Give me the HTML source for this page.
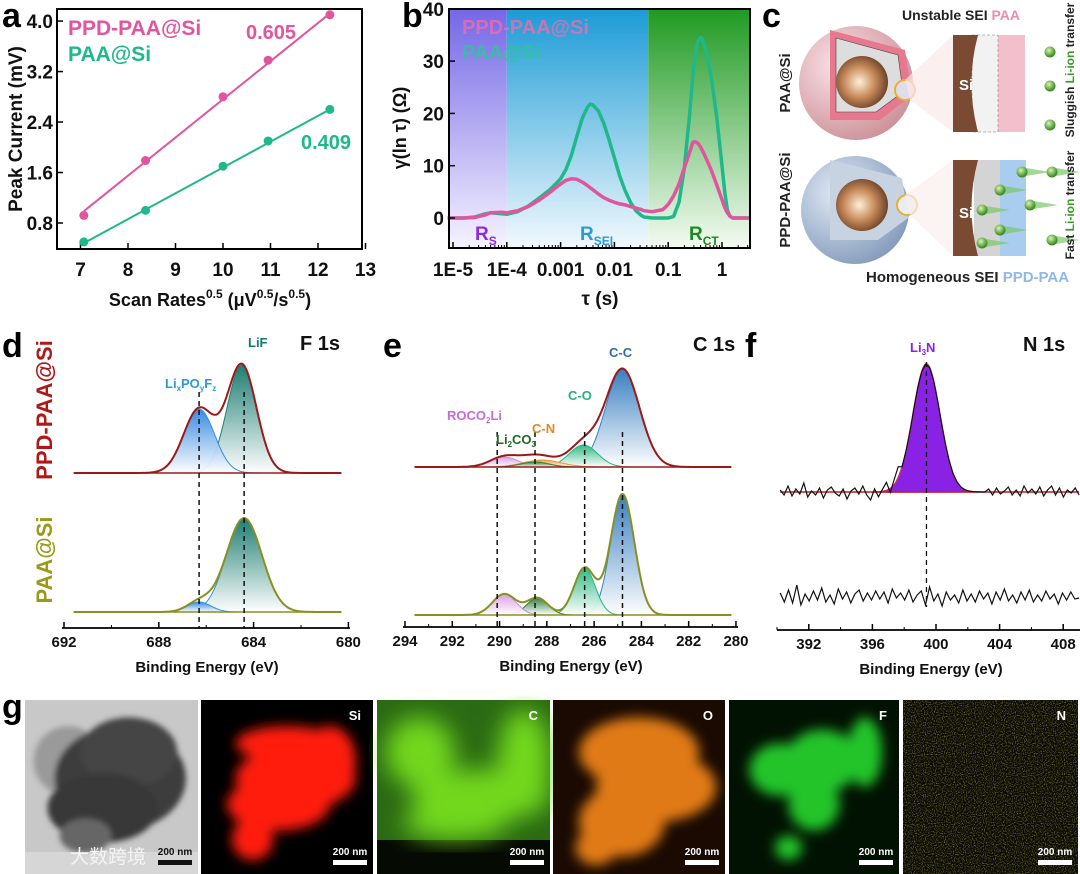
<!DOCTYPE html>
<html><head><meta charset="utf-8"><style>
html,body{margin:0;padding:0;background:#fff}
svg{display:block;font-family:"Liberation Sans","Noto Sans CJK SC",sans-serif;font-weight:bold}
</style></head><body>
<svg id="fig" width="1080" height="874" viewBox="0 0 1080 874" xmlns="http://www.w3.org/2000/svg">
<defs>
<linearGradient id="gPur" x1="0" y1="0" x2="0" y2="1"><stop offset="0" stop-color="#7467e6"/><stop offset="1" stop-color="#f6f3ff"/></linearGradient>
<linearGradient id="gBlu" x1="0" y1="0" x2="0" y2="1"><stop offset="0" stop-color="#1b9bd6"/><stop offset="1" stop-color="#f2f9fd"/></linearGradient>
<linearGradient id="gGrn" x1="0" y1="0" x2="0" y2="1"><stop offset="0" stop-color="#1f9a22"/><stop offset="1" stop-color="#f4fbf2"/></linearGradient>
<linearGradient id="fTeal" x1="0" y1="0" x2="0" y2="1"><stop offset="0" stop-color="#12776c"/><stop offset="1" stop-color="#ffffff"/></linearGradient>
<linearGradient id="fBlue" x1="0" y1="0" x2="0" y2="1"><stop offset="0" stop-color="#2f86e0"/><stop offset="1" stop-color="#ffffff"/></linearGradient>
<linearGradient id="fCC" x1="0" y1="0" x2="0" y2="1"><stop offset="0" stop-color="#2e78bf"/><stop offset="1" stop-color="#ffffff"/></linearGradient>
<linearGradient id="fCO" x1="0" y1="0" x2="0" y2="1"><stop offset="0" stop-color="#25b87f"/><stop offset="1" stop-color="#ffffff"/></linearGradient>
<linearGradient id="fRO" x1="0" y1="0" x2="0" y2="1"><stop offset="0" stop-color="#d99be6"/><stop offset="1" stop-color="#ffffff"/></linearGradient>
<linearGradient id="fLC" x1="0" y1="0" x2="0" y2="1"><stop offset="0" stop-color="#2b7d37"/><stop offset="1" stop-color="#ffffff"/></linearGradient>
<linearGradient id="fCN" x1="0" y1="0" x2="0" y2="1"><stop offset="0" stop-color="#e8a03c"/><stop offset="1" stop-color="#ffffff"/></linearGradient>
<radialGradient id="sPink" cx="0.35" cy="0.35" r="0.75"><stop offset="0" stop-color="#fbe3e6"/><stop offset="1" stop-color="#c98d95"/></radialGradient>
<radialGradient id="sBlue" cx="0.35" cy="0.35" r="0.75"><stop offset="0" stop-color="#e2ebf6"/><stop offset="1" stop-color="#7f97b8"/></radialGradient>
<radialGradient id="sCore" cx="0.45" cy="0.5" r="0.6"><stop offset="0" stop-color="#fff0d8"/><stop offset="0.5" stop-color="#c88a5a"/><stop offset="1" stop-color="#5a3520"/></radialGradient>
<radialGradient id="ball" cx="0.4" cy="0.35" r="0.6"><stop offset="0" stop-color="#d8f5b0"/><stop offset="1" stop-color="#3a8a22"/></radialGradient>
<filter id="blur6"><feGaussianBlur stdDeviation="6"/></filter>
<filter id="blur12"><feGaussianBlur stdDeviation="12"/></filter>
<filter id="blur3"><feGaussianBlur stdDeviation="3"/></filter>
<filter id="speck" x="0" y="0" width="100%" height="100%"><feTurbulence type="fractalNoise" baseFrequency="0.9" numOctaves="1" seed="3"/><feColorMatrix type="matrix" values="0 0 0 0 0.8  0 0 0 0 0.75  0 0 0 0 0.1  0 0 0 1.6 -0.75"/></filter>
</defs>
<g id="root"></g>
</svg>
<script>
// ---------- DATA ----------
// panel a
const aX = [7.07, 8.37, 10.0, 10.95, 12.25];
const aPink = [0.92, 1.79, 2.80, 3.38, 4.10];
const aGreen = [0.50, 1.00, 1.70, 2.10, 2.60];
const aSlopes = [0.605, 0.409];
const aIntercepts = [-3.29, -2.41];
const aXTicks = [7, 8, 9, 10, 11, 12, 13];
const aYTicks = [0.8, 1.6, 2.4, 3.2, 4.0];
// panel b (log10 tau, gamma)
const bLogT = [-5.1,-4.8,-4.6,-4.4,-4.3,-4.1,-4.0,-3.8,-3.6,-3.4,-3.2,-3.0,-2.9,-2.8,-2.7,-2.6,-2.5,-2.45,-2.4,-2.3,-2.2,-2.1,-2.0,-1.9,-1.8,-1.7,-1.6,-1.5,-1.45,-1.3,-1.1,-1.0,-0.9,-0.8,-0.7,-0.6,-0.54,-0.5,-0.45,-0.4,-0.37,-0.3,-0.2,-0.1,0.0,0.05,0.1,0.15,0.2,0.3,0.5];
const bPink = [0,0,0.1,0.6,1.0,1.1,1.0,1.4,2.2,3.4,4.9,6.5,7.2,7.5,7.4,6.9,6.2,5.8,5.4,4.6,3.9,3.4,3.0,2.7,2.5,2.2,1.9,1.6,1.4,1.2,1.6,2.6,4.2,6.5,9.6,12.6,14.5,14.6,14.3,13.6,13.0,11.5,9.2,6.4,3.5,2.0,1.0,0.3,0,0,0];
const bGreen = [0,0,0.2,0.8,1.0,0.8,0.7,1.2,2.3,3.8,5.4,7.5,9.3,12.0,15.5,19.0,21.2,21.8,21.6,20.5,18.2,15.0,11.5,8.0,5.2,3.0,1.4,0.5,0.2,0,0,0,0.3,3.0,9.5,20.0,27.5,31.0,33.8,34.5,34.3,32.0,27.0,19.5,10.0,5.0,1.5,0.3,0,0,0];
const bXTickLabels = ["1E-5","1E-4","0.001","0.01","0.1","1"];
const bXTickLogs = [-5,-4,-3,-2,-1,0];
const bYTicks = [0,10,20,30,40];
// panel d (F 1s): [centre eV, amplitude, sigma]
const dTopPeaks = [[684.5,108,0.62],[686.3,64,0.65]];
const dBotPeaks = [[684.4,94,0.75],[686.3,10,0.5]];
const dXTicks = [692,688,684,680];
const dDashes = [686.3,684.4];
// panel e (C 1s)
const eTopPeaks = [[284.8,98,0.72],[286.45,22,0.6],[289.8,10,0.6],[288.2,7,0.8],[288.5,5,0.6]];
const eBotPeaks = [[284.8,121,0.5],[286.4,47,0.45],[288.4,17,0.45],[289.8,21,0.5]];
const eXTicks = [294,292,290,288,286,284,282,280];
const eDashes = [290.1,288.5,286.4,284.8];
// panel f (N 1s)
const fPeak = [399.4,128,0.85];
const fNoiseTop = [2,-3,6,-4,3,-2,9,-5,1,-3,4,-6,2,5,-1,-4,3,-7,1,4,-2,6,-3,-8,3,-5,2,8,-4,5,11,0,0,0,0,0,0,0,0,0,0,0,0,0,0,0,0,0,0,0,0,0,0,3,-3,4,-2,1,5,-3,2,-4,6,-1,3,-2,5,-4,2,6,-3,4,-5,2,-1,4,-3];
const fNoiseBot = [4,-5,7,-6,12,-8,3,-4,6,-3,9,-5,2,-7,8,-2,5,-6,3,7,-4,4,-3,6,-2,5,-6,8,-1,4,-3,7,-5,2,6,-8,10,-4,3,-9,5,-3,2,-6,7,-4,3,-5,6,-2,4,-7,5,-3,8,-4,2,-6,5,-3,7,-5,2,-4,6,-2,3,-7,4,-3,5,-2,-1];
const fXTicks = [392,396,400,404,408];
// panel g
const gLabels = ["","Si","C","O","F","N"];

// ---------- helpers ----------
const NS="http://www.w3.org/2000/svg";
const root=document.getElementById('root');
function mk(tag,attrs,parent){const e=document.createElementNS(NS,tag);for(const k in attrs)e.setAttribute(k,attrs[k]);(parent||root).appendChild(e);return e;}
function txt(s,x,y,size,fill,anchor,parent){const t=mk('text',{x:x,y:y,'font-size':size,fill:fill||'#111','text-anchor':anchor||'start'},parent);t.textContent=s;return t;}
function gauss(x,p){return p[1]*Math.exp(-0.5*Math.pow((x-p[0])/p[2],2));}

// ---------- panel labels ----------
[["a",2,27],["b",402,27],["c",762,27],["d",2,357],["e",383,357],["f",745,357],["g",2,718]].forEach(l=>{
  const t=txt(l[0],l[1],l[2],34,'#000');
  
  
});

// ---------- panel a ----------
(function(){
  const g=mk('g',{});
  
  
  const X=v=>80.5+(v-7)*47.5, Y=v=>223-(v-0.8)*63.1;
  const fr=mk('rect',{x:57,y:9,width:305,height:240,fill:'none',stroke:'#000','stroke-width':2},g);
  
  
  aXTicks.forEach(v=>{mk('line',{x1:X(v),x2:X(v),y1:249,y2:243,stroke:'#000','stroke-width':1.5},g);
    const t=txt(String(v),X(v),276,19,'#111','middle',g);
    
    });
  aYTicks.forEach(v=>{mk('line',{x1:57,x2:63,y1:Y(v),y2:Y(v),stroke:'#000','stroke-width':1.5},g);
    const t=txt(v.toFixed(1),53,Y(v)+7,19,'#111','end',g);
    
    });
  const cols=['#e0559e','#1fb88a'];
  [aPink,aGreen].forEach((ser,si)=>{
    const x0=aX[0],x1=aX[aX.length-1];
    const ln=mk('line',{x1:X(x0),y1:Y(aSlopes[si]*x0+aIntercepts[si]),x2:X(x1),y2:Y(aSlopes[si]*x1+aIntercepts[si]),stroke:cols[si],'stroke-width':2},g);
    
    
    ser.forEach((v,i)=>{const c=mk('circle',{cx:X(aX[i]),cy:Y(v),r:4.5,fill:cols[si]},g);
      
      });
  });
  let t=txt('PPD-PAA@Si',68,35,21,'#e0559e','start',g);
  
  
  t=txt('PAA@Si',68,61,21,'#1fb88a','start',g);
  
  
  t=txt('0.605',246,39,20,'#e0559e','start',g);
  
  
  t=txt('0.409',301,149,20,'#1fb88a','start',g);
  
  
  t=mk('text',{x:210,y:306,'font-size':18,'text-anchor':'middle',fill:'#111'},g);
  t.innerHTML='Scan Rates<tspan font-size="12" dy="-8">0.5</tspan><tspan dy="8"> (μV</tspan><tspan font-size="12" dy="-8">0.5</tspan><tspan dy="8">/s</tspan><tspan font-size="12" dy="-8">0.5</tspan><tspan dy="8">)</tspan>';
  
  
  t=txt('Peak Current (mV)',0,0,19,'#111','middle',g);
  t.setAttribute('transform','translate(22,129) rotate(-90)');
  
  
})();

// ---------- panel b ----------
(function(){
  const g=mk('g',{});
  
  
  const X=l=>453+(l+5)*53.8, Y=v=>218-v*5.23;
  const L=449,R=750,T=9,B=248;
  mk('rect',{x:L,y:T,width:X(-4)-L,height:B-T,fill:'url(#gPur)'},g);
  mk('rect',{x:X(-4),y:T,width:X(-1.37)-X(-4),height:B-T,fill:'url(#gBlu)'},g);
  mk('rect',{x:X(-1.37),y:T,width:R-X(-1.37),height:B-T,fill:'url(#gGrn)'},g);
  [[bGreen,'#1fb88a','drt-curve-paa-si'],[bPink,'#e0559e','drt-curve-ppd-paa-si']].forEach(s=>{
    const pts=bLogT.map((l,i)=>X(l).toFixed(1)+','+Y(s[0][i]).toFixed(1)).join(' ');
    const p=mk('polyline',{points:pts,fill:'none',stroke:s[1],'stroke-width':3.5,'stroke-linejoin':'round'},g);
    
    
  });
  const fr=mk('rect',{x:L,y:T,width:R-L,height:B-T,fill:'none',stroke:'#000','stroke-width':2},g);
  
  
  bXTickLogs.forEach((l,i)=>{mk('line',{x1:X(l),x2:X(l),y1:B,y2:B-6,stroke:'#000','stroke-width':1.5},g);
    for(let m=2;m<10&&l<0.5;m++){const xm=X(l+Math.log10(m));if(xm<R)mk('line',{x1:xm,x2:xm,y1:B,y2:B-3,stroke:'#000','stroke-width':1},g);}
    const t=txt(bXTickLabels[i],X(l),276,19,'#111','middle',g);
    
    });
  bYTicks.forEach(v=>{mk('line',{x1:L,x2:L+6,y1:Y(v),y2:Y(v),stroke:'#000','stroke-width':1.5},g);
    const t=txt(String(v),444,Y(v)+7,19,'#111','end',g);
    
    });
  let t=txt('PPD-PAA@Si',462,34,20,'#f06ab0','start',g);t.setAttribute('opacity','0.8');
  
  
  t=txt('PAA@Si',462,59,20,'#2cc79a','start',g);t.setAttribute('opacity','0.85');
  
  
  t=mk('text',{x:475,y:240,'font-size':19,fill:'#8a2be2'},g);t.innerHTML='R<tspan font-size="12" dy="5">S</tspan>';
  
  
  t=mk('text',{x:580,y:240,'font-size':19,fill:'#2a9ad8'},g);t.innerHTML='R<tspan font-size="12" dy="5">SEI</tspan>';
  
  
  t=mk('text',{x:689,y:240,'font-size':19,fill:'#1b8a20'},g);t.innerHTML='R<tspan font-size="12" dy="5">CT</tspan>';
  
  
  t=mk('text',{x:600,y:305,'font-size':19,'text-anchor':'middle',fill:'#111'},g);t.textContent='τ (s)';
  
  
  t=txt('γ(ln τ) (Ω)',0,0,18,'#111','middle',g);
  t.setAttribute('transform','translate(406,128) rotate(-90)');
  
  
})();

// ---------- panel c (schematic) ----------
(function(){
  const g=mk('g',{});
  
  
  mk('circle',{cx:856,cy:83,r:57,fill:'url(#sPink)'},g);
  mk('path',{d:'M 830 30 L 905 50 L 912 95 L 880 120 L 830 120 Z',fill:'#e8788e'},g);
  mk('path',{d:'M 836 38 L 898 55 L 903 92 L 876 112 L 836 112 Z',fill:'#ddd',stroke:'#444','stroke-width':0.6},g);
  mk('circle',{cx:862,cy:82,r:26,fill:'url(#sCore)'},g);
  mk('circle',{cx:905,cy:90,r:10,fill:'#dde',stroke:'#e8b030','stroke-width':2},g);
  mk('circle',{cx:855,cy:210,r:54,fill:'url(#sBlue)'},g);
  mk('path',{d:'M 830 160 L 902 178 L 908 218 L 878 240 L 830 240 Z',fill:'#c7d3e0'},g);
  mk('circle',{cx:862,cy:205,r:26,fill:'url(#sCore)'},g);
  mk('circle',{cx:907,cy:205,r:10,fill:'#e8eef4',stroke:'#e8b030','stroke-width':2},g);
  mk('polygon',{points:'905,80 953,35 953,132 910,100',fill:'#fbe8e8',opacity:0.7},g);
  mk('polygon',{points:'905,195 953,160 953,256 910,215',fill:'#fbeeee',opacity:0.7},g);
  mk('rect',{x:995,y:35,width:30,height:97,fill:'#f4bfcc'},g);
  mk('rect',{x:972,y:35,width:26,height:97,fill:'#f2f2f2',stroke:'#777','stroke-width':0.5,'stroke-dasharray':'3 2'},g);
  mk('path',{d:'M 953 35 L 978 35 Q 965 83 978 132 L 953 132 Z',fill:'#7a4a33'},g);
  mk('rect',{x:998,y:160,width:28,height:96,fill:'#a9cdee'},g);
  mk('rect',{x:974,y:160,width:26,height:96,fill:'#d4d4d4'},g);
  mk('path',{d:'M 953 160 L 978 160 Q 965 208 978 256 L 953 256 Z',fill:'#7a4a33'},g);
  let t=txt('Si',959,90,15,'#fff','start',g);
  
  
  t=txt('Si',959,218,15,'#fff','start',g);
  
  
  [[1050,52],[1050,86],[1050,125],[1022,172],[1052,172],[1000,190],[1030,205],[982,210],[1000,230],[1052,240],[982,243]].forEach((b,i)=>{
    if(i>2) mk('polygon',{points:(b[0]+4)+','+(b[1]-4)+' '+(b[0]+28)+','+b[1]+' '+(b[0]+4)+','+(b[1]+4),fill:'#7bc86a',opacity:0.7},g);
    const c=mk('circle',{cx:b[0],cy:b[1],r:5.5,fill:'url(#ball)'},g);
    
    
  });
  t=mk('text',{x:902,y:20,'font-size':14,fill:'#222'},g);t.innerHTML='Unstable  SEI  <tspan fill="#f08aa8">PAA</tspan>';
  
  
  t=mk('text',{x:866,y:282,'font-size':15,fill:'#222'},g);t.innerHTML='Homogeneous  SEI <tspan fill="#8fb8e6">PPD-PAA</tspan>';
  
  
  t=mk('text',{x:0,y:0,'font-size':12,fill:'#222','text-anchor':'middle',transform:'translate(1074,70) rotate(-90)'},g);t.innerHTML='Sluggish <tspan fill="#3a9a2a">Li-ion</tspan> transfer';
  
  
  t=mk('text',{x:0,y:0,'font-size':12,fill:'#222','text-anchor':'middle',transform:'translate(1074,205) rotate(-90)'},g);t.innerHTML='Fast <tspan fill="#3a9a2a">Li-ion</tspan> transfer';
  
  
  t=txt('PAA@Si',0,0,15,'#222','middle',g);t.setAttribute('transform','translate(790,83) rotate(-90)');
  
  
  t=txt('PPD-PAA@Si',0,0,15,'#222','middle',g);t.setAttribute('transform','translate(790,200) rotate(-90)');
  
  
})();

// ---------- XPS panels ----------
function xpsPanel(cfg){
  const g=mk('g',{});
  
  
  const X=cfg.X;
  cfg.spectra.forEach((sp,si)=>{
    const xs=[];for(let e=cfg.lo;e<=cfg.hi+1e-6;e+=0.04)xs.push(e);
    sp.peaks.forEach((p,pi)=>{
      const pts=xs.filter(e=>Math.abs(e-p[0])<4*p[2]).map(e=>X(e).toFixed(1)+','+(sp.base-gauss(e,p)).toFixed(1));
      const first=pts[0].split(',')[0],last=pts[pts.length-1].split(',')[0];
      const path=mk('path',{d:'M '+first+','+sp.base+' L '+pts.join(' L ')+' L '+last+','+sp.base+' Z',fill:sp.fills[pi],stroke:sp.strokes[pi],'stroke-width':1,opacity:0.95},g);
      
      
    });
    const env=xs.map(e=>X(e).toFixed(1)+','+(sp.base-sp.peaks.reduce((s,p)=>s+gauss(e,p),0)).toFixed(1)).join(' ');
    const bl=mk('line',{x1:X(cfg.lo),x2:X(cfg.hi),y1:sp.base,y2:sp.base,stroke:sp.env,'stroke-width':1.5},g);
    
    
    const raw=mk('polyline',{points:env,fill:'none',stroke:'#111','stroke-width':1.2},g);
    
    
    const pe=mk('polyline',{points:env,fill:'none',stroke:sp.env,'stroke-width':2},g);
    
    
  });
  cfg.dashes.forEach(d=>{const l=mk('line',{x1:X(d),x2:X(d),y1:cfg.dashTop,y2:cfg.axisY,stroke:'#111','stroke-width':1.5,'stroke-dasharray':'5 4'},g);
    
    });
  const ax=mk('line',{x1:cfg.axL,x2:cfg.axR,y1:cfg.axisY,y2:cfg.axisY,stroke:'#000','stroke-width':1.8},g);
  
  
  cfg.ticks.forEach(v=>{mk('line',{x1:X(v),x2:X(v),y1:cfg.axisY,y2:cfg.axisY-6,stroke:'#000','stroke-width':1.5},g);
    const t=txt(String(v),X(v),cfg.axisY+19,15,'#111','middle',g);
    
    });
  for(let i=0;i<cfg.ticks.length-1;i++){const m=(cfg.ticks[i]+cfg.ticks[i+1])/2;mk('line',{x1:X(m),x2:X(m),y1:cfg.axisY,y2:cfg.axisY-3,stroke:'#000','stroke-width':1},g);}
  const t=txt('Binding Energy (eV)',cfg.titleX,cfg.axisY+44,15,'#111','middle',g);
  
  
  return g;
}
const dX=e=>64+(692-e)*23.7;
xpsPanel({name:'panel-d-f1s',X:dX,lo:680.3,hi:691.6,spectra:[
  {base:473,peaks:dTopPeaks,fills:['url(#fTeal)','url(#fBlue)'],strokes:['#137a6e','#2a8ad8'],env:'#9a1a1a'},
  {base:612,peaks:dBotPeaks,fills:['url(#fTeal)','url(#fBlue)'],strokes:['#2a8ad8','#2a8ad8'],env:'#8a9020'}],
  dashes:dDashes,dashTop:392,axisY:628,axL:62,axR:350,ticks:dXTicks,titleX:207});
const eX=e=>405+(294-e)*23.64;
xpsPanel({name:'panel-e-c1s',X:eX,lo:280.2,hi:293.6,spectra:[
  {base:467,peaks:eTopPeaks,fills:['url(#fCC)','url(#fCO)','url(#fRO)','url(#fCN)','url(#fLC)'],strokes:['#2a7ab8','#20b07a','#c88ad8','#e09a30','#2a7a30'],env:'#9a1a1a'},
  {base:615,peaks:eBotPeaks,fills:['url(#fCC)','url(#fCO)','url(#fLC)','url(#fRO)'],strokes:['#2a7ab8','#20b07a','#2a7a30','#c88ad8'],env:'#8a9020'}],
  dashes:eDashes,dashTop:432,axisY:627,axL:403,axR:738,ticks:eXTicks,titleX:571});
[[ 'F 1s',300,350,20,'#111'],['LiF',248,347,13,'#137a6e'],['C 1s',693,351,20,'#111'],['C-C',609,357,13,'#2a6fae'],['C-O',568,400,13,'#25b07e'],['C-N',532,433,13,'#e08a20']].forEach(l=>{
  const t=txt(l[0],l[1],l[2],l[3],l[4],'start');
  
  
});
(function(){
  let t=mk('text',{x:165,y:388,'font-size':13,fill:'#2a9ad8'});t.innerHTML='Li<tspan font-size="8" dy="3">x</tspan><tspan dy="-3">PO</tspan><tspan font-size="8" dy="3">y</tspan><tspan dy="-3">F</tspan><tspan font-size="8" dy="3">z</tspan>';
  
  
  t=mk('text',{x:447,y:420,'font-size':13,fill:'#c86ad8'});t.innerHTML='ROCO<tspan font-size="8" dy="3">2</tspan><tspan dy="-3">Li</tspan>';
  
  
  t=mk('text',{x:496,y:444,'font-size':13,fill:'#1e6a22'});t.innerHTML='Li<tspan font-size="8" dy="3">2</tspan><tspan dy="-3">CO</tspan><tspan font-size="8" dy="3">3</tspan>';
  
  
  t=txt('PPD-PAA@Si',0,0,22,'#b01818','middle');t.setAttribute('transform','translate(52,410) rotate(-90)');
  
  
  t=txt('PAA@Si',0,0,22,'#9a9a18','middle');t.setAttribute('transform','translate(52,560) rotate(-90)');
  
  
})();

// ---------- panel f ----------
(function(){
  const g=mk('g',{});
  
  
  const X=e=>777+(e-390)*15.9;
  const lo=390.2,hi=409;
  const topB=492,botB=597;
  const step=(hi-lo)/(fNoiseTop.length-1);
  const pk=[];for(let e=fPeak[0]-3.4;e<=fPeak[0]+3.4;e+=0.05)pk.push(X(e).toFixed(1)+','+(topB-gauss(e,fPeak)).toFixed(1));
  const fill=mk('path',{d:'M '+X(fPeak[0]-3.4)+','+topB+' L '+pk.join(' L ')+' Z',fill:'#8a22e6',stroke:'#c0306a','stroke-width':1.5},g);
  
  
  const bl=mk('line',{x1:X(lo),x2:X(hi),y1:topB,y2:topB,stroke:'#c02020','stroke-width':1.5},g);
  
  
  const ptsT=fNoiseTop.map((n,i)=>{const e=lo+i*step;return X(e).toFixed(1)+','+(topB-gauss(e,fPeak)-n).toFixed(1);}).join(' ');
  let p=mk('polyline',{points:ptsT,fill:'none',stroke:'#111','stroke-width':1.2},g);
  
  
  const stepB=(hi-lo)/(fNoiseBot.length-1);
  const ptsB=fNoiseBot.map((n,i)=>X(lo+i*stepB).toFixed(1)+','+(botB-n).toFixed(1)).join(' ');
  p=mk('polyline',{points:ptsB,fill:'none',stroke:'#111','stroke-width':1.2},g);
  
  
  const d=mk('line',{x1:X(fPeak[0]),x2:X(fPeak[0]),y1:362,y2:607,stroke:'#111','stroke-width':1.3,'stroke-dasharray':'5 4'},g);
  
  
  const ax=mk('line',{x1:777,x2:1080,y1:630,y2:630,stroke:'#000','stroke-width':1.8},g);
  
  
  fXTicks.forEach(v=>{mk('line',{x1:X(v),x2:X(v),y1:630,y2:624,stroke:'#000','stroke-width':1.5},g);
    mk('line',{x1:X(v-2),x2:X(v-2),y1:630,y2:627,stroke:'#000','stroke-width':1},g);
    const t=txt(String(v),X(v),649,15,'#111','middle',g);
    
    });
  let t=txt('Binding Energy (eV)',931,674,15,'#111','middle',g);
  
  
  t=txt('N 1s',1023,351,20,'#111','start',g);
  
  
  t=mk('text',{x:910,y:352,'font-size':13,fill:'#8a22e6'},g);t.innerHTML='Li<tspan font-size="8" dy="3">3</tspan><tspan dy="-3">N</tspan>';
  
  
})();

// ---------- panel g (EDS maps) ----------
(function(){
  const tiles=[[25,198],[201,373],[377,550],[553,725],[729,899],[903,1078]];
  const bg=['#c8c8c8','#000','#2a6a14','#1a0a02','#021202','#080806'];
  const blob=[null,'#ff1c10','#72d81e','#e07a14','#22c42a',null];
  const shapes=[[],
                [[0.5,0.25,0.3,0.1],[0.55,0.45,0.35,0.18],[0.45,0.6,0.3,0.15],[0.3,0.8,0.12,0.12],[0.75,0.35,0.15,0.2]],
                [[0.25,0.3,0.2,0.2],[0.6,0.55,0.4,0.15],[0.85,0.35,0.15,0.3],[0.45,0.7,0.3,0.1]],
                [[0.5,0.3,0.35,0.2],[0.6,0.5,0.35,0.2],[0.4,0.7,0.25,0.2],[0.25,0.85,0.12,0.1]],
                [[0.3,0.4,0.18,0.15],[0.55,0.35,0.22,0.18],[0.5,0.6,0.15,0.15],[0.35,0.85,0.08,0.07],[0.8,0.3,0.1,0.2]],
                []];
  tiles.forEach((tl,i)=>{
    const w=tl[1]-tl[0],h=174,x0=tl[0],y0=700;
    const g=mk('g',{});
    
    
    mk('rect',{x:x0,y:y0,width:w,height:h,fill:bg[i]},g);
    if(i===0){
      const b=mk('g',{filter:'url(#blur3)'},g);
      [[0.25,0.35,0.2,0.2,'#9a9a9a'],[0.55,0.45,0.38,0.3,'#3e3e3e'],[0.6,0.3,0.28,0.2,'#444'],[0.45,0.62,0.32,0.2,'#383838'],[0.35,0.78,0.15,0.1,'#666']].forEach(s=>mk('ellipse',{cx:x0+s[0]*w,cy:y0+s[1]*h,rx:s[2]*w,ry:s[3]*h,fill:s[4]},b));
      mk('rect',{x:x0,y:y0+152,width:w,height:22,fill:'#d8d8d8',opacity:0.85},g);
      const wm=txt('大数跨境',x0+45,y0+163,19,'#f4f4f4','start',g);wm.setAttribute('font-weight','normal');
      
      
    } else if(blob[i]){
      if(i===2) mk('rect',{x:x0,y:y0+140,width:w,height:34,fill:'#050a03'},g);
      const b=mk('g',{filter:i===2?'url(#blur12)':'url(#blur6)'},g);
      shapes[i].forEach(s=>mk('ellipse',{cx:x0+s[0]*w,cy:y0+s[1]*h,rx:s[2]*w,ry:s[3]*h,fill:blob[i]},b));
    } else {
      mk('rect',{x:x0,y:y0,width:w,height:h,filter:'url(#speck)'},g);
    }
    if(gLabels[i]){const t=txt(gLabels[i],x0+w-12,y0+20,13,'#fff','end',g);
      
      }
    const c=i===0?'#111':'#fff';
    const sb=mk('rect',{x:x0+w-40,y:y0+160,width:34,height:5,fill:c},g);
    
    
    const st=txt('200 nm',x0+w-23,y0+155,10,c,'middle',g);
    
    
  });
})();
</script>
</body></html>
